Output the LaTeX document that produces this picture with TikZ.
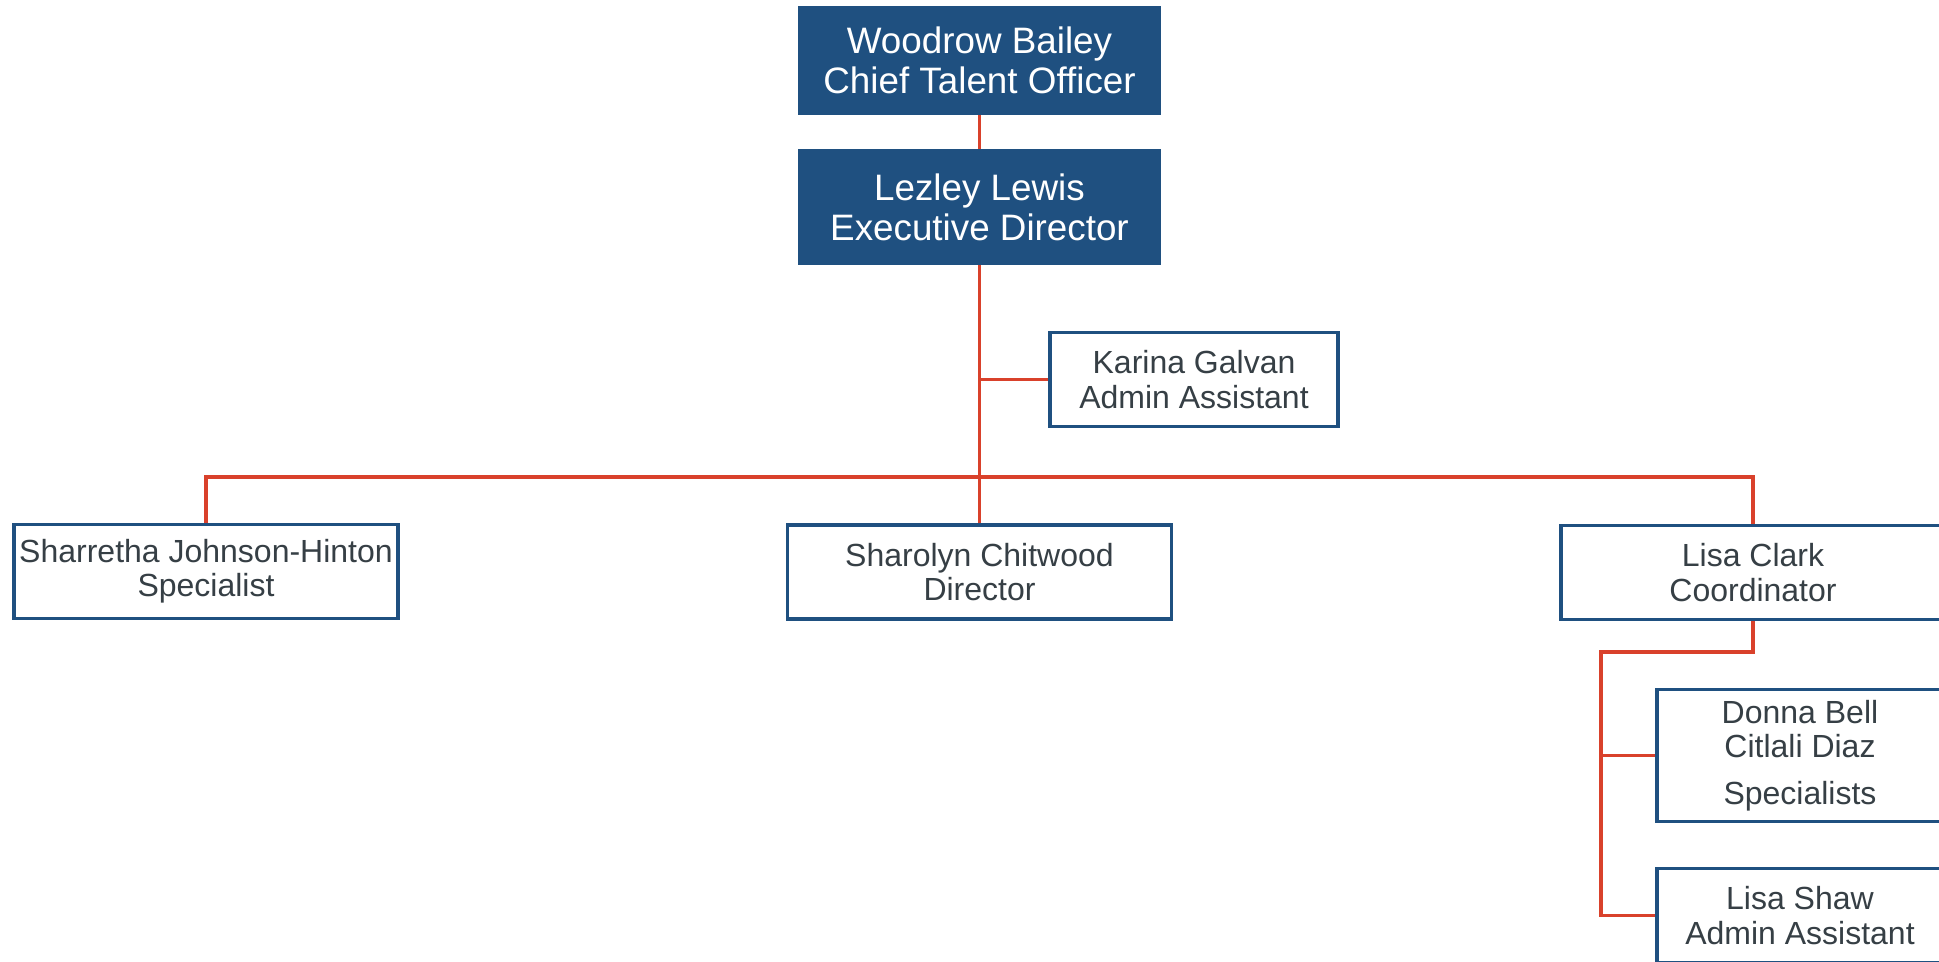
\documentclass[tikz,border=0pt]{standalone}
\usepackage{fontspec}
\setmainfont{Liberation Sans}
\usepackage{tikz}

\definecolor{headblue}{HTML}{1F5080}
\definecolor{linkred}{HTML}{D9412B}
\definecolor{namegray}{HTML}{363F45}

\tikzset{
  headbox/.style={draw=headblue, fill=headblue, text=white, inner sep=0pt,
    minimum width=181pt, align=center,
    font=\fontsize{18.4}{20}\selectfont},
  staffbox/.style={draw=headblue, line width=1.8pt, fill=white, text=namegray,
    inner sep=0pt, minimum height=47pt, align=center,
    font=\fontsize{16}{17.2}\selectfont},
  link/.style={draw=linkred, line width=1.7pt}
}

\begin{document}
\begin{tikzpicture}[x=0.5pt,y=-0.5pt]

% Page frame
\clip (0,0) rectangle (1939,962);

% Top of the chart
\node[headbox, minimum height=54pt] (woodrow) at (979.5,60.5) {Woodrow Bailey\\Chief Talent Officer};
\node[headbox, minimum height=57.5pt] (lezley) at (979.5,207) {Lezley Lewis\\Executive Director};

% Assistant beside the line
\node[staffbox, minimum width=144pt] (karina) at (1194,379.5) {Karina Galvan\\Admin Assistant};

% Second row
\node[staffbox, minimum width=192pt] (sharretha) at (206,571.5) {Sharretha Johnson-Hinton\\Specialist};
\node[staffbox, minimum width=192pt] (sharolyn) at (979.5,572) {Sharolyn Chitwood\\Director};
\node[staffbox, minimum width=192pt] (lisaclark) at (1753,572.5) {Lisa Clark\\Coordinator};

% Under the coordinator
\node[staffbox, minimum width=143pt, minimum height=66pt] (donna) at (1800,755.5) {Donna Bell\\Citlali Diaz\\[6pt]Specialists};
\node[staffbox, minimum width=143pt] (lisashaw) at (1800,915.5) {Lisa Shaw\\Admin Assistant};

% Turning points of the lines
\coordinate (bus) at (979.5,477);
\coordinate (sub) at (1601,652);

% Draw links
\draw[link] (woodrow.south) -- (lezley.north);
\draw[link] (lezley.south) -- (sharolyn.north);
\draw[link] (karina.west) -- (karina.west -| lezley.south);
\draw[link] (sharretha.north) |- (bus) -| (lisaclark.north);
\draw[link] (lisaclark.south) |- (sub) |- (lisashaw.west);
\draw[link] (sub |- donna.west) -- (donna.west);

\end{tikzpicture}
\end{document}
